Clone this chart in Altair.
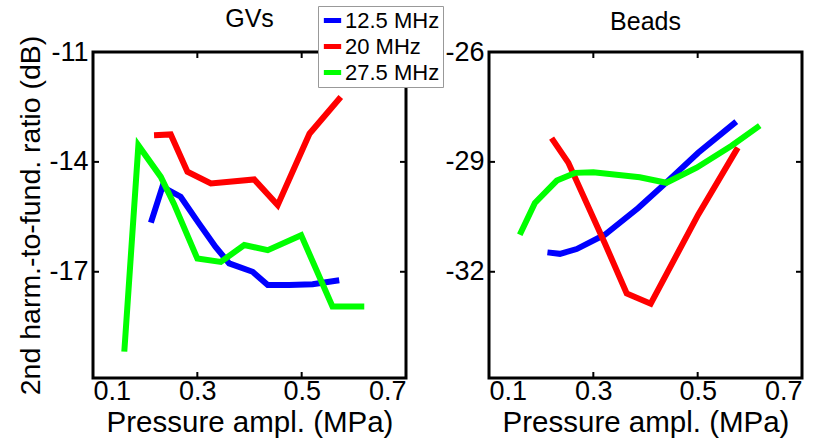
import altair as alt
import pandas as pd

FONT = "Liberation Sans"
freqs = ["12.5 MHz", "20 MHz", "27.5 MHz"]
colors = ["#0000FF", "#FF0000", "#00FF00"]

# GVs panel
gv_125_x = [0.211, 0.233, 0.268, 0.303, 0.335, 0.361, 0.406, 0.435, 0.476, 0.521, 0.572]
gv_125_y = [-15.66, -14.68, -14.95, -15.68, -16.32, -16.77, -17.00, -17.36, -17.36, -17.34, -17.23]
gv_20_x = [0.217, 0.249, 0.281, 0.326, 0.409, 0.454, 0.515, 0.575]
gv_20_y = [-13.27, -13.25, -14.27, -14.59, -14.48, -15.18, -13.23, -12.23]
gv_275_x = [0.160, 0.187, 0.230, 0.255, 0.300, 0.345, 0.390, 0.435, 0.499, 0.559, 0.620]
gv_275_y = [-19.18, -13.55, -14.41, -15.14, -16.64, -16.73, -16.27, -16.41, -16.00, -17.95, -17.95]

# Beads panel
bd_125_x = [0.212, 0.236, 0.268, 0.322, 0.386, 0.437, 0.501, 0.574]
bd_125_y = [-31.47, -31.51, -31.38, -30.99, -30.26, -29.60, -28.75, -27.90]
bd_20_x = [0.220, 0.252, 0.322, 0.364, 0.410, 0.501, 0.577]
bd_20_y = [-28.35, -29.02, -31.22, -32.59, -32.87, -30.44, -28.61]
bd_275_x = [0.159, 0.188, 0.230, 0.265, 0.300, 0.389, 0.440, 0.498, 0.565, 0.619]
bd_275_y = [-30.99, -30.12, -29.51, -29.30, -29.28, -29.42, -29.57, -29.16, -28.56, -28.01]

x_ticks = [0.1, 0.3, 0.5, 0.7]
gv_yticks = [-11, -14, -17]
bd_yticks = [-26, -29, -32]
gv_ydom = [-19.9, -11]
bd_ydom = [-34.9, -26]


def make_df(series):
    rows = []
    for f, xs, ys in series:
        for i, (a, b) in enumerate(zip(xs, ys)):
            rows.append({"freq": f, "p": a, "r": b, "i": i})
    return pd.DataFrame(rows)


gv_df = make_df([(freqs[0], gv_125_x, gv_125_y), (freqs[1], gv_20_x, gv_20_y), (freqs[2], gv_275_x, gv_275_y)])
bd_df = make_df([(freqs[0], bd_125_x, bd_125_y), (freqs[1], bd_20_x, bd_20_y), (freqs[2], bd_275_x, bd_275_y)])

W, H = 313, 326
TL = 6  # inward tick length


def panel(df, title, ydom, yticks, ytitle):
    xs = alt.Scale(domain=[0.1, 0.7], nice=False, zero=False)
    ys = alt.Scale(domain=ydom, nice=False, zero=False)
    lines = alt.Chart(df).mark_line(strokeWidth=6, clip=True).encode(
        x=alt.X("p:Q", scale=xs, axis=alt.Axis(values=x_ticks, labelExpr="format(datum.value, '.1f')",
                                               title="Pressure ampl. (MPa)")),
        y=alt.Y("r:Q", scale=ys, axis=alt.Axis(values=yticks, labelExpr="datum.value + ''",
                                               title=ytitle if ytitle else None)),
        color=alt.Color("freq:N", scale=alt.Scale(domain=freqs, range=colors),
                        legend=alt.Legend(title=None)),
        order="i:Q",
    )
    xt = pd.DataFrame({"v": x_ticks})
    yt = pd.DataFrame({"v": yticks})
    tb = alt.Chart(xt).mark_rule(color="black", strokeWidth=2).encode(
        x=alt.X("v:Q", scale=xs), y=alt.value(H), y2=alt.value(H - TL))
    tt = alt.Chart(xt).mark_rule(color="black", strokeWidth=2).encode(
        x=alt.X("v:Q", scale=xs), y=alt.value(0), y2=alt.value(TL))
    tl = alt.Chart(yt).mark_rule(color="black", strokeWidth=2).encode(
        y=alt.Y("v:Q", scale=ys), x=alt.value(0), x2=alt.value(TL))
    tr = alt.Chart(yt).mark_rule(color="black", strokeWidth=2).encode(
        y=alt.Y("v:Q", scale=ys), x=alt.value(W), x2=alt.value(W - TL))
    return alt.layer(lines, tb, tt, tl, tr).properties(
        width=W, height=H,
        title=alt.TitleParams(title, fontSize=25, fontWeight="normal", font=FONT, color="black", offset=3),
    )


left = panel(gv_df, "GVs", gv_ydom, gv_yticks, "2nd harm.-to-fund. ratio (dB)")
right = panel(bd_df, "Beads", bd_ydom, bd_yticks, None)

chart = alt.hconcat(left, right, spacing=34).properties(
    padding={"left": 15, "top": 5, "right": 5, "bottom": 0},
    background="white",
).configure_view(
    stroke="black", strokeWidth=3
).configure_axis(
    domain=False, grid=False, ticks=False,
    labelFont=FONT, titleFont=FONT, labelFontSize=27,
    titleFontWeight="normal", labelColor="black", titleColor="black",
).configure_axisX(
    labelPadding=0, titlePadding=4, titleFontSize=29.5,
).configure_axisY(labelPadding=5, titlePadding=3, titleFontSize=28.5).configure_legend(
    orient="none", legendX=225, legendY=-46, direction="vertical",
    symbolType="stroke", symbolStrokeWidth=5, symbolSize=300,
    labelFont=FONT, labelFontSize=22, labelColor="black", labelOffset=1,
    strokeColor="#999999", fillColor="white", padding=3, rowPadding=3,
)

chart.save("out.html", embed_options={"renderer": "svg", "actions": False})
